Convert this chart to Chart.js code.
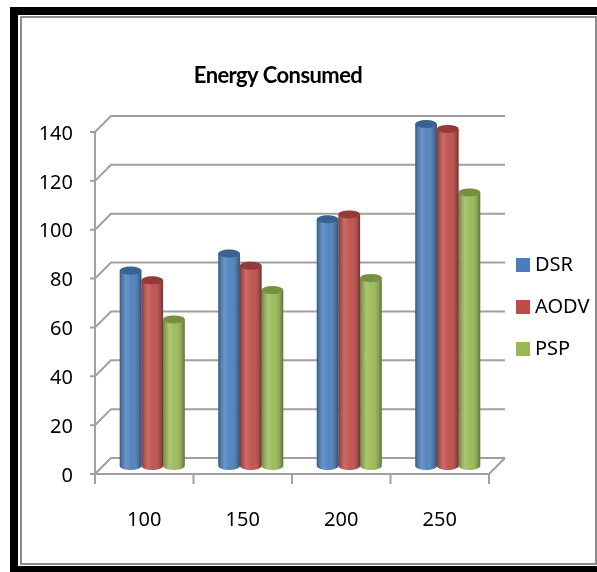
<!DOCTYPE html>
<html>
<head>
<meta charset="utf-8">
<script src="https://cdn.jsdelivr.net/npm/chart.js@4/dist/chart.umd.min.js"></script>
<style>
  html, body { margin: 0; padding: 0; background: #fff; }
</style>
</head>
<body>
<canvas id="chartEnergia" width="597" height="572"></canvas>
<script>
const categorias = ['100', '150', '200', '250'];
const valoresDSR = [80, 87, 101, 140];
const valoresAODV = [76, 82, 103, 138];
const valoresPSP = [60, 72, 77, 112];
const ticksY = [0, 20, 40, 60, 80, 100, 120, 140];
const titulo = 'Energy Consumed';

const PROF = 8; // medio fondo del efecto 3D
const fuente = '"Noto Sans", "Liberation Sans", sans-serif';
const fuenteTitulo = 'Lato, "Liberation Sans", sans-serif';

const dataEnergia = {
  labels: categorias,
  datasets: [{
    label: 'DSR',
    data: valoresDSR,
    backgroundColor: '#4a7ebb'
  }, {
    label: 'AODV',
    data: valoresAODV,
    backgroundColor: '#be4b48'
  }, {
    label: 'PSP',
    data: valoresPSP,
    backgroundColor: '#98b954'
  }]
};

// marco, paredes, cilindros, titulo y leyenda
const efecto3d = {
  id: 'efecto3d',
  beforeDraw(chart) {
    const c = chart.ctx;
    c.save();
    c.fillStyle = '#fff';
    c.fillRect(0, 0, chart.width, chart.height);
    c.fillStyle = '#000';
    c.fillRect(10, 7, 587, 8);
    c.fillRect(10, 7, 8, 565);
    c.fillRect(10, 566, 587, 6);
    c.strokeStyle = '#8c8c8c';
    c.lineWidth = 2;
    c.strokeRect(21, 17, 575, 547);
    c.restore();
  },
  beforeDatasetsDraw(chart) {
    const { ctx: c, chartArea: a, scales: { x, y } } = chart;
    const y0 = y.getPixelForValue(0);
    const yMax = y.getPixelForValue(ticksY[ticksY.length - 1]);
    c.save();
    c.strokeStyle = '#a0a0a0';
    c.lineWidth = 2;
    ticksY.forEach(v => {
      const py = y.getPixelForValue(v);
      c.beginPath();
      c.moveTo(a.left - PROF - 5, py + PROF);
      c.lineTo(a.left - PROF, py + PROF);
      c.lineTo(a.left + PROF, py - PROF);
      c.lineTo(a.right + PROF, py - PROF);
      c.stroke();
    });
    // eje vertical frontal
    c.beginPath();
    c.moveTo(a.left - PROF, yMax + PROF);
    c.lineTo(a.left - PROF, y0 + PROF);
    // piso
    c.lineTo(a.right - PROF, y0 + PROF);
    c.lineTo(a.right + PROF, y0 - PROF);
    c.stroke();
    // marcas de categoria
    const anchoCat = (a.right - a.left) / categorias.length;
    for (let i = 0; i <= categorias.length; i++) {
      const px = a.left + i * anchoCat - PROF;
      c.beginPath();
      c.moveTo(px, y0 + PROF);
      c.lineTo(px, y0 + PROF + 10);
      c.stroke();
    }
    c.restore();
  },
  afterDatasetsDraw(chart) {
    const c = chart.ctx;
    c.save();
    chart.data.datasets.forEach((ds, i) => {
      chart.getDatasetMeta(i).data.forEach(bar => {
        const w = bar.width;
        const l = bar.x - w / 2;
        const ry = 4;
        // base redondeada
        c.fillStyle = ds.backgroundColor;
        c.beginPath();
        c.ellipse(bar.x, bar.base, w / 2, ry, 0, 0, Math.PI);
        c.fill();
        // sombreado del cilindro
        const g = c.createLinearGradient(l, 0, l + w, 0);
        g.addColorStop(0, 'rgba(0,0,0,0.28)');
        g.addColorStop(0.3, 'rgba(255,255,255,0.18)');
        g.addColorStop(0.55, 'rgba(255,255,255,0.05)');
        g.addColorStop(1, 'rgba(0,0,0,0.38)');
        c.fillStyle = g;
        c.beginPath();
        c.moveTo(l, bar.y);
        c.lineTo(l, bar.base);
        c.ellipse(bar.x, bar.base, w / 2, ry, 0, Math.PI, 0, true);
        c.lineTo(l + w, bar.y);
        c.closePath();
        c.fill();
        // tapa
        c.fillStyle = ds.backgroundColor;
        c.beginPath();
        c.ellipse(bar.x, bar.y, w / 2, ry, 0, 0, Math.PI * 2);
        c.fill();
        c.fillStyle = 'rgba(0,0,0,0.22)';
        c.fill();
      });
    });
    c.restore();
  },
  afterDraw(chart) {
    const c = chart.ctx;
    c.save();
    c.fillStyle = '#000';
    c.textAlign = 'center';
    c.textBaseline = 'middle';
    c.font = 'bold 22px ' + fuenteTitulo;
    c.letterSpacing = '-0.6px';
    c.fillText(titulo, 278, 76);
    c.letterSpacing = '0px';
    c.textAlign = 'left';
    c.font = '20px ' + fuente;
    chart.data.datasets.forEach((ds, i) => {
      const cy = 265 + i * 42;
      c.fillStyle = ds.backgroundColor;
      c.fillRect(516, cy - 7, 14, 14);
      c.fillStyle = '#000';
      c.fillText(ds.label, 535, cy);
    });
    c.restore();
  }
};

const optionsEnergia = {
  responsive: false,
  animation: false,
  layout: {
    padding: { left: 0, right: 100, top: 124, bottom: 0 }
  },
  datasets: {
    bar: {
      categoryPercentage: 0.66,
      barPercentage: 1.0,
      borderWidth: 0
    }
  },
  scales: {
    x: {
      grid: { display: false, drawTicks: false },
      border: { display: false },
      ticks: {
        color: '#000',
        padding: 42,
        labelOffset: -PROF,
        font: { family: fuente, size: 20 }
      },
      afterFit: s => { s.height = 106; }
    },
    y: {
      min: 0,
      max: 140,
      afterBuildTicks: s => { s.ticks = ticksY.map(v => ({ value: v })); },
      grid: { display: false, drawTicks: false },
      border: { display: false },
      ticks: {
        color: '#000',
        padding: 30,
        labelOffset: PROF + 2,
        font: { family: fuente, size: 20 }
      },
      afterFit: s => { s.width = 103; }
    }
  },
  plugins: {
    legend: { display: false },
    title: { display: false },
    tooltip: { enabled: false }
  }
};

const ctxEnergia = document.getElementById('chartEnergia');

new Chart(ctxEnergia, {
  type: 'bar',
  data: dataEnergia,
  options: optionsEnergia,
  plugins: [efecto3d]
});
</script>
</body>
</html>
